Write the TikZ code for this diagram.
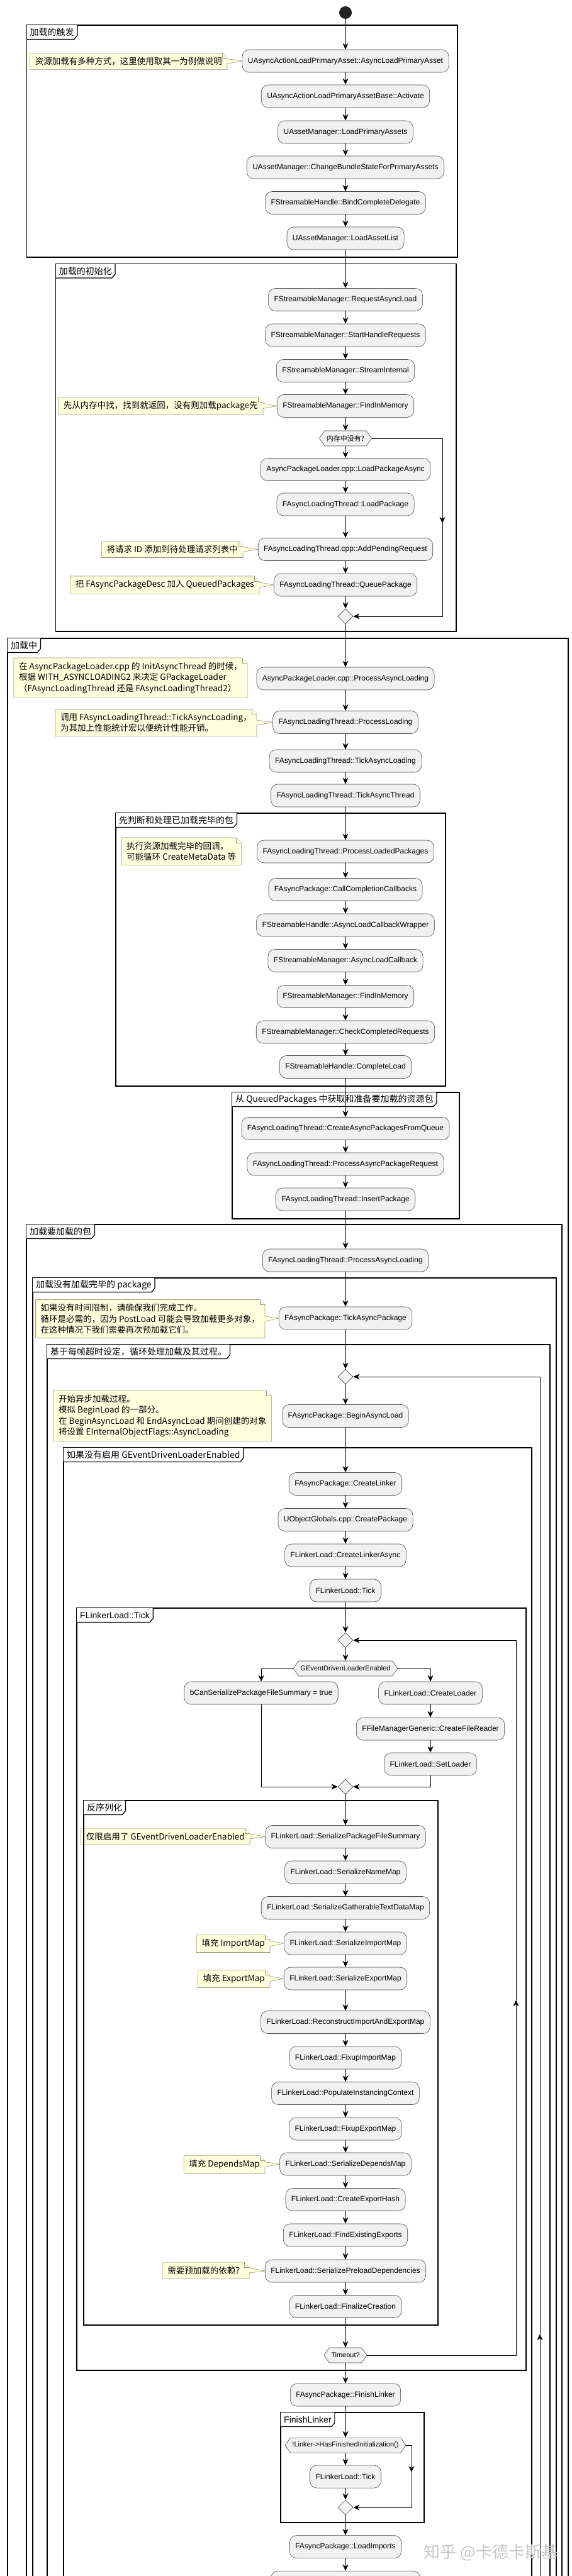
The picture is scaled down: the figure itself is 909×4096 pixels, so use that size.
\documentclass[tikz,border=0pt]{standalone}
\usepackage{fontspec}
\setmainfont{Liberation Sans}
\newfontfamily\cjk{Noto Sans CJK SC}
\usetikzlibrary{shapes.geometric,shapes.symbols,arrows.meta,backgrounds,calc}
\definecolor{actfill}{HTML}{F1F1F1}
\definecolor{actline}{HTML}{4A4A4A}
\definecolor{notefill}{HTML}{FEFFDD}
\definecolor{noteline}{HTML}{9A9A7A}
\definecolor{startc}{HTML}{222222}
\tikzset{
 act/.style={rectangle, rounded corners=11pt, draw=actline, line width=0.6pt, fill=actfill, minimum height=36pt, inner xsep=9pt, inner ysep=2pt, font=\fontsize{12}{14}\selectfont},
 hex/.style={signal, signal to=east and west, signal pointer angle=110, draw=actline, line width=0.6pt, fill=actfill, minimum height=24pt, inner xsep=3pt, inner ysep=1pt, font=\fontsize{11}{13}\selectfont},
 merge/.style={diamond, draw=actline, line width=0.6pt, fill=actfill, minimum width=24pt, minimum height=24pt, inner sep=0pt},
 notetext/.style={align=left, inner xsep=8pt, inner ysep=6.5pt, font=\cjk\fontsize{13.5}{17.5}\selectfont},
 noteshape/.style={fill=notefill, draw=noteline, line width=0.6pt, line join=miter},
 conn/.style={draw=black, line width=0.8pt, -{Stealth[length=10pt,width=9pt,inset=3pt]}},
 grpframe/.style={draw=black, line width=1.5pt},
 tabtitle/.style={anchor=north west, fill=white, inner xsep=5pt, inner ysep=3pt, minimum height=22pt, font=\cjk\fontsize{14}{16}\selectfont},
 tabline/.style={draw=black, line width=1.2pt},
}
\newcommand{\notept}[2]{%
 \begin{scope}[on background layer]
 \path[noteshape] (#1.north west) -- ([xshift=-8pt]#1.north east) -- ([yshift=-8pt]#1.north east) -- ([yshift=4pt]#1.east) -- (#2.west) -- ([yshift=-4pt]#1.east) -- (#1.south east) -- (#1.south west) -- cycle;
 \path[noteshape] ([xshift=-8pt]#1.north east) -- ([xshift=-8pt,yshift=-8pt]#1.north east) -- ([yshift=-8pt]#1.north east);
 \end{scope}}
\newcommand{\notefree}[1]{%
 \begin{scope}[on background layer]
 \path[noteshape] (#1.north west) -- ([xshift=-8pt]#1.north east) -- ([yshift=-8pt]#1.north east) -- (#1.south east) -- (#1.south west) -- cycle;
 \path[noteshape] ([xshift=-8pt]#1.north east) -- ([xshift=-8pt,yshift=-8pt]#1.north east) -- ([yshift=-8pt]#1.north east);
 \end{scope}}
\newcommand{\grptab}[1]{%
 \draw[tabline] (#1.north east) -- ([yshift=6pt]#1.south east) -- ([xshift=-5pt]#1.south east) -- (#1.south west);}
\begin{document}
\begin{tikzpicture}[x=1pt,y=-1pt]
\useasboundingbox (0,0) rectangle (909,4096);
\begin{scope}[on background layer]
\fill[white] (0,0) rectangle (909,4096);
\end{scope}
\clip (0,0) rectangle (909,4096);

% ---------- group frames ----------
\draw[grpframe] (42.5,40) rectangle (727,409);
\draw[grpframe] (88.6,419.5) rectangle (725,1004);
\draw[grpframe] (12,4200) -- (12,1015) -- (903,1015) -- (903,4200);
\draw[grpframe] (184,1293) rectangle (708,1727);
\draw[grpframe] (369,1737) rectangle (730,1938);
\draw[grpframe] (42,4200) -- (42,1947) -- (893,1947) -- (893,4200);
\draw[grpframe] (52,4200) -- (52,2032) -- (884,2032) -- (884,4200);
\draw[grpframe] (75,4200) -- (75,2138) -- (874,2138) -- (874,4200);
\draw[grpframe] (101,4200) -- (101,2302) -- (845,2302) -- (845,4200);
\draw[grpframe] (122,2557) rectangle (836,3769);
\draw[grpframe] (133,2863) rectangle (696,3697);
\draw[grpframe] (446,3836) rectangle (674,4011);

% ---------- group titles ----------
\node[tabtitle] (g1) at (42.5,40) {加载的触发}; \grptab{g1}
\node[tabtitle] (g2) at (88.6,419.5) {加载的初始化}; \grptab{g2}
\node[tabtitle] (g3) at (12,1015) {加载中}; \grptab{g3}
\node[tabtitle] (g4) at (184,1293) {先判断和处理已加载完毕的包}; \grptab{g4}
\node[tabtitle] (g5) at (369,1737) {从 QueuedPackages 中获取和准备要加载的资源包}; \grptab{g5}
\node[tabtitle] (g6) at (42,1947) {加载要加载的包}; \grptab{g6}
\node[tabtitle] (g7) at (52,2032) {加载没有加载完毕的 package}; \grptab{g7}
\node[tabtitle] (g8) at (75,2138) {基于每帧超时设定，循环处理加载及其过程。}; \grptab{g8}
\node[tabtitle] (g9) at (101,2302) {如果没有启用 GEventDrivenLoaderEnabled}; \grptab{g9}
\node[tabtitle, font=\fontsize{14}{16}\selectfont] (g10) at (122,2557) {FLinkerLoad::Tick}; \grptab{g10}
\node[tabtitle] (g11) at (133,2863) {反序列化}; \grptab{g11}
\node[tabtitle, font=\fontsize{14}{16}\selectfont] (g12) at (446,3836) {FinishLinker}; \grptab{g12}

% ---------- activity nodes ----------
\node[circle, fill=startc, minimum size=20pt, inner sep=0pt] (start) at (549,20) {};
\node[act] (n1) at (549,97) {UAsyncActionLoadPrimaryAsset::AsyncLoadPrimaryAsset};
\node[act] (n2) at (549,153) {UAsyncActionLoadPrimaryAssetBase::Activate};
\node[act] (n3) at (549,210) {UAssetManager::LoadPrimaryAssets};
\node[act] (n4) at (549,266) {UAssetManager::ChangeBundleStateForPrimaryAssets};
\node[act] (n5) at (549,322.5) {FStreamableHandle::BindCompleteDelegate};
\node[act] (n6) at (549,379) {UAssetManager::LoadAssetList};

\node[act] (n7) at (549,476.5) {FStreamableManager::RequestAsyncLoad};
\node[act] (n8) at (549,533) {FStreamableManager::StartHandleRequests};
\node[act] (n9) at (549,589.5) {FStreamableManager::StreamInternal};
\node[act] (n10) at (549,645.5) {FStreamableManager::FindInMemory};
\node[hex, font=\cjk\fontsize{11}{13}\selectfont] (h1) at (549,697) {内存中没有?};
\node[act] (n11) at (549,746.5) {AsyncPackageLoader.cpp::LoadPackageAsync};
\node[act] (n12) at (549,802) {FAsyncLoadingThread::LoadPackage};
\node[act] (n13) at (549,873.5) {FAsyncLoadingThread.cpp::AddPendingRequest};
\node[act] (n14) at (549,930) {FAsyncLoadingThread::QueuePackage};
\node[merge] (m1) at (549,980) {};

\node[act] (n15) at (549,1079) {AsyncPackageLoader.cpp::ProcessAsyncLoading};
\node[act] (n16) at (549,1148.5) {FAsyncLoadingThread::ProcessLoading};
\node[act] (n17) at (549,1210) {FAsyncLoadingThread::TickAsyncLoading};
\node[act] (n18) at (549,1265) {FAsyncLoadingThread::TickAsyncThread};
\node[act] (n19) at (549,1354) {FAsyncLoadingThread::ProcessLoadedPackages};
\node[act] (n20) at (549,1414.5) {FAsyncPackage::CallCompletionCallbacks};
\node[act] (n21) at (549,1471) {FStreamableHandle::AsyncLoadCallbackWrapper};
\node[act] (n22) at (549,1527.5) {FStreamableManager::AsyncLoadCallback};
\node[act] (n23) at (549,1584.5) {FStreamableManager::FindInMemory};
\node[act] (n24) at (549,1641) {FStreamableManager::CheckCompletedRequests};
\node[act] (n25) at (549,1696.5) {FStreamableHandle::CompleteLoad};
\node[act] (n26) at (549,1794.5) {FAsyncLoadingThread::CreateAsyncPackagesFromQueue};
\node[act] (n27) at (549,1851) {FAsyncLoadingThread::ProcessAsyncPackageRequest};
\node[act] (n28) at (549,1907) {FAsyncLoadingThread::InsertPackage};
\node[act] (n29) at (549,2004) {FAsyncLoadingThread::ProcessAsyncLoading};
\node[act] (n30) at (549,2096) {FAsyncPackage::TickAsyncPackage};
\node[merge] (m2) at (549,2189) {};
\node[act] (n31) at (549,2251.5) {FAsyncPackage::BeginAsyncLoad};
\node[act] (n32) at (549,2359.5) {FAsyncPackage::CreateLinker};
\node[act] (n33) at (549,2416.5) {UObjectGlobals.cpp::CreatePackage};
\node[act] (n34) at (549,2473) {FLinkerLoad::CreateLinkerAsync};
\node[act] (n35) at (549,2529) {FLinkerLoad::Tick};
\node[merge] (m3) at (549,2608) {};
\node[hex] (h2) at (549,2653) {GEventDrivenLoaderEnabled};
\node[act] (n36) at (415,2692) {bCanSerializePackageFileSummary = true};
\node[act] (n37) at (684,2692) {FLinkerLoad::CreateLoader};
\node[act] (n38) at (684,2749) {FFileManagerGeneric::CreateFileReader};
\node[act] (n39) at (684,2805) {FLinkerLoad::SetLoader};
\node[merge] (m4) at (549,2841) {};
\node[act] (n40) at (549,2920.5) {FLinkerLoad::SerializePackageFileSummary};
\node[act] (n41) at (549,2977) {FLinkerLoad::SerializeNameMap};
\node[act] (n42) at (549,3033.5) {FLinkerLoad::SerializeGatherableTextDataMap};
\node[act] (n43) at (549,3090) {FLinkerLoad::SerializeImportMap};
\node[act] (n44) at (549,3146) {FLinkerLoad::SerializeExportMap};
\node[act] (n45) at (549,3215.5) {FLinkerLoad::ReconstructImportAndExportMap};
\node[act] (n46) at (549,3272) {FLinkerLoad::FixupImportMap};
\node[act] (n47) at (549,3328.5) {FLinkerLoad::PopulateInstancingContext};
\node[act] (n48) at (549,3385) {FLinkerLoad::FixupExportMap};
\node[act] (n49) at (549,3441) {FLinkerLoad::SerializeDependsMap};
\node[act] (n50) at (549,3497.5) {FLinkerLoad::CreateExportHash};
\node[act] (n51) at (549,3554) {FLinkerLoad::FindExistingExports};
\node[act] (n52) at (549,3611) {FLinkerLoad::SerializePreloadDependencies};
\node[act] (n53) at (549,3667.5) {FLinkerLoad::FinalizeCreation};
\node[hex] (h3) at (549,3745) {Timeout?};
\node[act] (n54) at (549,3808) {FAsyncPackage::FinishLinker};
\node[hex] (h4) at (549,3888) {!Linker->HasFinishedInitialization()};
\node[act] (n55) at (549,3938) {FLinkerLoad::Tick};
\node[merge] (m5) at (549,3987) {};
\node[act] (n56) at (549,4049.5) {FAsyncPackage::LoadImports};
\node[act, minimum width=237pt] (n57) at (549,4106) {};

% ---------- notes ----------
\node[notetext, anchor=east] (t1) at (361,97.5) {资源加载有多种方式，这里使用取其一为例做说明}; \notept{t1}{n1}
\node[notetext, anchor=east] (t2) at (418,645.5) {先从内存中找，找到就返回，没有则加载package先}; \notept{t2}{n10}
\node[notetext, anchor=east] (t3) at (386,873.5) {将请求 ID 添加到待处理请求列表中}; \notept{t3}{n13}
\node[notetext, anchor=east] (t4) at (412,930) {把 FAsyncPackageDesc 加入 QueuedPackages}; \notept{t4}{n14}
\node[notetext, anchor=north west] (t5) at (22,1046) {在 AsyncPackageLoader.cpp 的 InitAsyncThread 的时候，\\根据 WITH\_ASYNCLOADING2 来决定 GPackageLoader\\（FAsyncLoadingThread 还是 FAsyncLoadingThread2）}; \notefree{t5}
\node[notetext, anchor=east] (t6) at (408,1149) {调用 FAsyncLoadingThread::TickAsyncLoading，\\为其加上性能统计宏以便统计性能开销。}; \notept{t6}{n16}
\node[notetext, anchor=north west] (t7) at (193,1332) {执行资源加载完毕的回调，\\可能循环 CreateMetaData 等}; \notefree{t7}
\node[notetext, anchor=east] (t8) at (421,2097) {如果没有时间限制，请确保我们完成工作。\\循环是必需的，因为 PostLoad 可能会导致加载更多对象，\\在这种情况下我们需要再次预加载它们。}; \notept{t8}{n30}
\node[notetext, anchor=north west] (t9) at (85,2211) {开始异步加载过程。\\模拟 BeginLoad 的一部分。\\在 BeginAsyncLoad 和 EndAsyncLoad 期间创建的对象\\将设置 EInternalObjectFlags::AsyncLoading}; \notefree{t9}
\node[notetext, anchor=east] (t10) at (397,2920) {仅限启用了 GEventDrivenLoaderEnabled}; \notept{t10}{n40}
\node[notetext, anchor=east] (t11) at (429,3090.5) {填充 ImportMap}; \notept{t11}{n43}
\node[notetext, anchor=east] (t12) at (429,3146.5) {填充 ExportMap}; \notept{t12}{n44}
\node[notetext, anchor=east] (t13) at (421,3441.5) {填充 DependsMap}; \notept{t13}{n49}
\node[notetext, anchor=east] (t14) at (396,3610) {需要预加载的依赖？}; \notept{t14}{n52}

% ---------- connectors ----------
\foreach \a/\b in {start/n1,n1/n2,n2/n3,n3/n4,n4/n5,n5/n6,n6/n7,n7/n8,n8/n9,n9/n10,n10/h1,h1/n11,n11/n12,n12/n13,n13/n14,n14/m1,m1/n15,n15/n16,n16/n17,n17/n18,n18/n19,n19/n20,n20/n21,n21/n22,n22/n23,n23/n24,n24/n25,n25/n26,n26/n27,n27/n28,n28/n29,n29/n30,n30/m2,m2/n31,n31/n32,n32/n33,n33/n34,n34/n35,n35/m3,m3/h2,m4/n40,n40/n41,n41/n42,n42/n43,n43/n44,n44/n45,n45/n46,n46/n47,n47/n48,n48/n49,n49/n50,n50/n51,n51/n52,n52/n53,n53/h3,h3/n54,n54/h4,h4/n55,n55/m5,m5/n56,n56/n57,n37/n38,n38/n39}
  \draw[conn] (\a.south) -- (\b.north);

% branch of h1
\coordinate (b1a) at (703,697);
\coordinate (b1m) at (703,832);
\coordinate (b1b) at (703,980);
\draw[conn] (h1.east) -- (b1a) -- (b1m);
\draw[conn] (b1m) -- (b1b) -- (m1.east);

% branches of h2
\draw[conn] (h2.west) -| (n36.north);
\draw[conn] (h2.east) -| (n37.north);
\draw[conn] (n36.south) |- (m4.west);
\draw[conn] (n39.south) |- (m4.east);

% outer loop (per-frame timeout)
\coordinate (l1a) at (858,4200);
\coordinate (l1m) at (858,3711);
\coordinate (l1t) at (858,2189);
\draw[conn] (l1a) -- (l1m);
\draw[conn] (l1m) -- (l1t) -- (m2.east);

% inner loop (Timeout?)
\coordinate (l2a) at (820,3745);
\coordinate (l2m) at (820,3180);
\coordinate (l2t) at (820,2608);
\draw[conn] (h3.east) -- (l2a) -- (l2m);
\draw[conn] (l2m) -- (l2t) -- (m3.east);

% branch of h4
\coordinate (b4a) at (654,3888);
\coordinate (b4m) at (654,3931);
\coordinate (b4b) at (654,3987);
\draw[conn] (h4.east) -- (b4a) -- (b4m);
\draw[conn] (b4m) -- (b4b) -- (m5.east);

% watermark
\node[font=\cjk\fontsize{26}{30}\selectfont, text=black!22] (wm) at (780,4059) {知乎 @卡德卡斯基};
\end{tikzpicture}
\end{document}
